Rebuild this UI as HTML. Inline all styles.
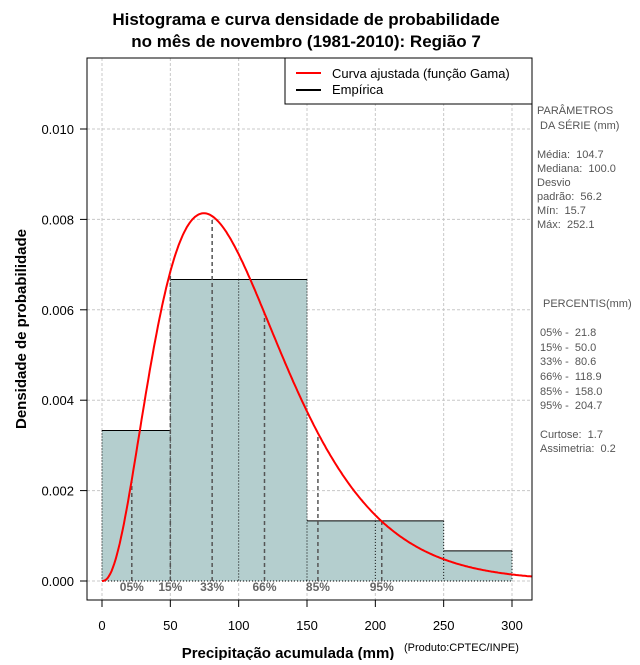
<!DOCTYPE html>
<html><head><meta charset="utf-8">
<style>
body{margin:0;background:#fff;}
svg text{font-family:"Liberation Sans",sans-serif;white-space:pre;}
</style></head>
<body>
<svg id="chart" width="640" height="660" xmlns="http://www.w3.org/2000/svg">
<rect width="640" height="660" fill="#fff"/>
<text x="306" y="25" text-anchor="middle" font-size="17" font-weight="bold">Histograma e curva densidade de probabilidade</text>
<text x="306" y="47" text-anchor="middle" font-size="17" font-weight="bold">no mês de novembro (1981-2010): Região 7</text>
<g id="grid"></g>
<g id="bars"></g>
<g id="pct"></g>
<g id="curve"></g>
<g id="axes"></g>
<rect x="87" y="58" width="445" height="542" fill="none" stroke="#000" stroke-width="1"/>
<g>
<rect x="285" y="58" width="247" height="46" fill="#fff" stroke="#000"/>
<line x1="296" y1="73" x2="321" y2="73" stroke="#f00" stroke-width="2"/>
<text x="332" y="78" font-size="13">Curva ajustada (função Gama)</text>
<line x1="296" y1="90" x2="321" y2="90" stroke="#000" stroke-width="2"/>
<text x="332" y="94" font-size="13">Empírica</text>
</g>
<g font-size="11" fill="#555">
<text x="537" y="114">PARÂMETROS</text>
<text x="540" y="129">DA SÉRIE (mm)</text>
<text x="537" y="158">Média:  104.7</text>
<text x="537" y="172">Mediana:  100.0</text>
<text x="537" y="186">Desvio</text>
<text x="537" y="200">padrão:  56.2</text>
<text x="537" y="214">Mín:  15.7</text>
<text x="537" y="228">Máx:  252.1</text>
<text x="543" y="307">PERCENTIS(mm)</text>
<text x="540" y="336">05% -  21.8</text>
<text x="540" y="351">15% -  50.0</text>
<text x="540" y="365">33% -  80.6</text>
<text x="540" y="380">66% -  118.9</text>
<text x="540" y="395">85% -  158.0</text>
<text x="540" y="409">95% -  204.7</text>
<text x="540" y="438">Curtose:  1.7</text>
<text x="540" y="452">Assimetria:  0.2</text>
</g>
<text x="288" y="658" text-anchor="middle" font-size="15" font-weight="bold">Precipitação acumulada (mm)</text>
<text x="404" y="651" font-size="11">(Produto:CPTEC/INPE)</text>
<text transform="translate(26,329) rotate(-90)" text-anchor="middle" font-size="15" font-weight="bold">Densidade de probabilidade</text>
</svg>
<script>
const binEdges = [0, 50, 100, 150, 200, 250, 300];
const binDensity = [0.00333, 0.00667, 0.00667, 0.00133, 0.00133, 0.000667];
const gammaShape = [3.47];
const gammaScale = [30.17];
const pctValues = [21.8, 50.0, 80.6, 118.9, 158.0, 204.7];
const pctLabels = ["05%", "15%", "33%", "66%", "85%", "95%"];
const xTicks = [0, 50, 100, 150, 200, 250, 300];
const yTicks = [0, 0.002, 0.004, 0.006, 0.008, 0.010];
const yTickLabels = ["0.000", "0.002", "0.004", "0.006", "0.008", "0.010"];

const NS = "http://www.w3.org/2000/svg";
const X = v => 102 + v * (410 / 300);
const Y = v => 581 - v * 45200;
function mk(tag, attrs, parent){const e=document.createElementNS(NS,tag);for(const k in attrs)e.setAttribute(k,attrs[k]);document.getElementById(parent).appendChild(e);return e;}
function lgamma(z){const g=7,c=[0.99999999999980993,676.5203681218851,-1259.1392167224028,771.32342877765313,-176.61502916214059,12.507343278686905,-0.13857109526572012,9.9843695780195716e-6,1.5056327351493116e-7];z-=1;let a=c[0];const t=z+g+0.5;for(let i=1;i<9;i++)a+=c[i]/(z+i);return 0.5*Math.log(2*Math.PI)+(z+0.5)*Math.log(t)-t+Math.log(a);}
function pdf(x){const k=gammaShape[0],th=gammaScale[0];if(x<=0)return 0;return Math.exp((k-1)*Math.log(x)-x/th-lgamma(k)-k*Math.log(th));}

xTicks.forEach(v=>{const l=mk('line',{x1:X(v),x2:X(v),y1:58,y2:600,stroke:'#c8c8c8','stroke-dasharray':'3,2'},'grid');

});
yTicks.forEach(v=>{const l=mk('line',{x1:87,x2:532,y1:Y(v),y2:Y(v),stroke:'#c8c8c8','stroke-dasharray':'3,2'},'grid');

});

binDensity.forEach((d,i)=>{const r=mk('rect',{x:X(binEdges[i]),y:Y(d),width:X(binEdges[i+1])-X(binEdges[i]),height:Y(0)-Y(d),fill:'#b4cece'},'bars');


const tp=mk('line',{x1:X(binEdges[i]),x2:X(binEdges[i+1]),y1:Y(d),y2:Y(d),stroke:'#000'},'bars');

});
binEdges.forEach((e,i)=>{const h=Math.max(i>0?binDensity[i-1]:0,i<binDensity.length?binDensity[i]:0);
const l=mk('line',{x1:X(e),x2:X(e),y1:Y(h),y2:Y(0),stroke:'#000','stroke-dasharray':'1,2'},'bars');

});
const b=mk('line',{x1:X(0),x2:X(300),y1:Y(0),y2:Y(0),stroke:'#000','stroke-dasharray':'1,2'},'bars');



pctValues.forEach((v,i)=>{const l=mk('line',{x1:X(v),x2:X(v),y1:Y(0),y2:Y(pdf(v)),stroke:'#555','stroke-width':1.5,'stroke-dasharray':'4,3'},'pct');


const t=mk('text',{x:X(v),y:591,'text-anchor':'middle','font-size':12,'font-weight':'bold',fill:'#666','font-family':'Liberation Serif, serif'},'pct');
t.textContent=pctLabels[i];

});

let d='';for(let x=0;x<=315;x+=1){d+=(x?'L':'M')+X(x).toFixed(1)+','+Y(pdf(x)).toFixed(1);}
const p=mk('path',{d:d,fill:'none',stroke:'#f00','stroke-width':2},'curve');



xTicks.forEach(v=>{const l=mk('line',{x1:X(v),x2:X(v),y1:600,y2:607,stroke:'#000'},'axes');


const t=mk('text',{x:X(v),y:630,'text-anchor':'middle','font-size':13},'axes');t.textContent=v;

});
yTicks.forEach((v,i)=>{const l=mk('line',{x1:80,x2:87,y1:Y(v),y2:Y(v),stroke:'#000'},'axes');


const t=mk('text',{x:74,y:Y(v)+5,'text-anchor':'end','font-size':13},'axes');t.textContent=yTickLabels[i];

});
</script>
</body></html>
